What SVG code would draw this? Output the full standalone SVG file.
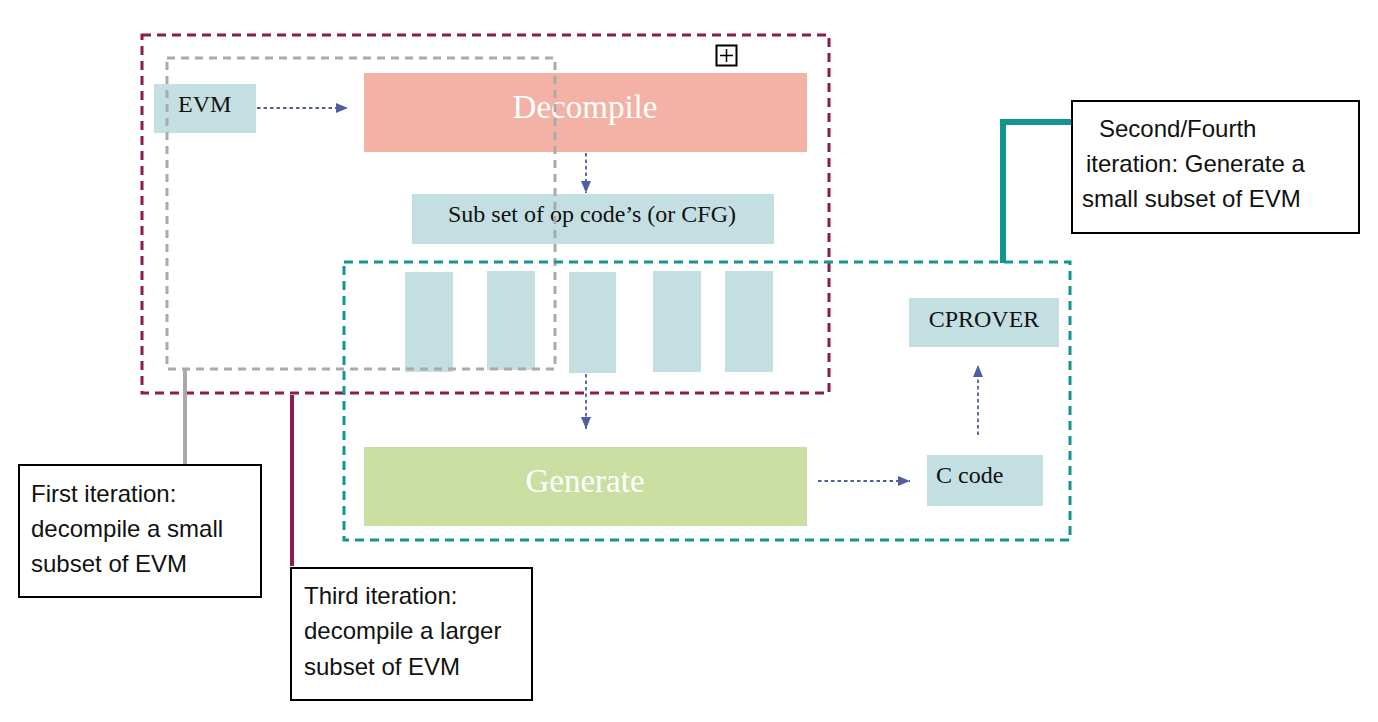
<svg xmlns="http://www.w3.org/2000/svg" width="1378" height="722" viewBox="0 0 1378 722">
<style>
.blue{fill:#C4DFE2}
.serif{font-family:"Liberation Serif","Times New Roman",serif;fill:#111;font-size:24px}
.big{font-family:"Liberation Serif","Times New Roman",serif;fill:#fff;font-size:33px}
.note{fill:#fff;stroke:#000;stroke-width:2}
.nt{font-family:"Liberation Sans",Arial,sans-serif;font-size:24px;fill:#111}
.flow{stroke:#4F5E9E;stroke-width:1.8;stroke-dasharray:3.5 3;fill:none}
</style>
<defs>
<marker id="ah" viewBox="0 0 12 10" refX="12" refY="5" markerWidth="12" markerHeight="10" markerUnits="userSpaceOnUse" orient="auto">
<path d="M0,0 L12,5 L0,10 Z" fill="#4F5E9E"/>
</marker>
</defs>
<rect width="1378" height="722" fill="#fff"/>
<g id="evm"><rect class="blue" x="154" y="84" width="102" height="49"/><text class="serif" x="178" y="112">EVM</text></g>
<g id="decompile"><rect x="364" y="73" width="443" height="79" fill="#F3B2A5"/><text class="big" x="585" y="118" text-anchor="middle">Decompile</text></g>
<g id="plus"><rect x="716.5" y="45.5" width="20" height="20" fill="#fff" stroke="#000" stroke-width="2"/><path d="M720,55.5 H733 M726.5,49 V62" stroke="#000" stroke-width="1.5"/></g>
<g id="subset"><rect class="blue" x="412" y="194" width="362" height="50"/><text class="serif" x="592" y="222" text-anchor="middle">Sub set of op code’s (or CFG)</text></g>
<g id="ops">
<rect class="blue" x="405" y="272" width="48" height="100"/>
<rect class="blue" x="487" y="271" width="48" height="99"/>
<rect class="blue" x="569" y="272" width="47" height="101"/>
<rect class="blue" x="653" y="271" width="48" height="101"/>
<rect class="blue" x="725" y="271" width="48" height="101"/>
</g>
<g id="generate"><rect x="364" y="447" width="443" height="79" fill="#CADFA1"/><text class="big" x="585" y="492" text-anchor="middle">Generate</text></g>
<g id="ccode"><rect class="blue" x="927" y="455" width="116" height="51"/><text class="serif" x="936" y="483">C code</text></g>
<g id="cprover"><rect class="blue" x="909" y="298" width="150" height="49"/><text class="serif" x="984" y="327" text-anchor="middle">CPROVER</text></g>
<g id="groups" fill="none" stroke-width="3">
<rect x="142" y="35" width="687" height="358" stroke="#8E1B50" stroke-dasharray="9 6"/>
<rect x="167" y="58" width="388" height="311" stroke="#AAAAAA" stroke-dasharray="8 6"/>
<rect x="344" y="262" width="726" height="278" stroke="#159490" stroke-dasharray="9 6"/>
</g>
<g id="connectors">
<line class="flow" x1="257" y1="108" x2="348" y2="108" marker-end="url(#ah)"/>
<line class="flow" x1="586" y1="153" x2="586" y2="193" marker-end="url(#ah)"/>
<line class="flow" x1="586" y1="374" x2="586" y2="429" marker-end="url(#ah)"/>
<line class="flow" x1="818" y1="481" x2="910" y2="481" marker-end="url(#ah)"/>
<line class="flow" x1="978" y1="435" x2="978" y2="365" marker-end="url(#ah)"/>
<path d="M1003,263 V122 H1071" fill="none" stroke="#159490" stroke-width="6"/>
<line x1="185" y1="370" x2="185" y2="465" stroke="#AAAAAA" stroke-width="4"/>
<line x1="292" y1="395" x2="292" y2="566" stroke="#8E1B50" stroke-width="4"/>
</g>
<g id="note2"><rect class="note" x="1072" y="101" width="287" height="132"/>
<text class="nt" x="1099" y="137">Second/Fourth</text>
<text class="nt" x="1086" y="172">iteration: Generate a</text>
<text class="nt" x="1082" y="207">small subset of EVM</text></g>
<g id="note1"><rect class="note" x="19" y="465" width="242" height="132"/>
<text class="nt" x="31" y="502">First iteration:</text>
<text class="nt" x="31" y="537">decompile a small</text>
<text class="nt" x="31" y="572">subset of EVM</text></g>
<g id="note3"><rect class="note" x="291" y="568" width="241" height="132"/>
<text class="nt" x="304" y="604">Third iteration:</text>
<text class="nt" x="304" y="639">decompile a larger</text>
<text class="nt" x="304" y="675">subset of EVM</text></g>
</svg>
